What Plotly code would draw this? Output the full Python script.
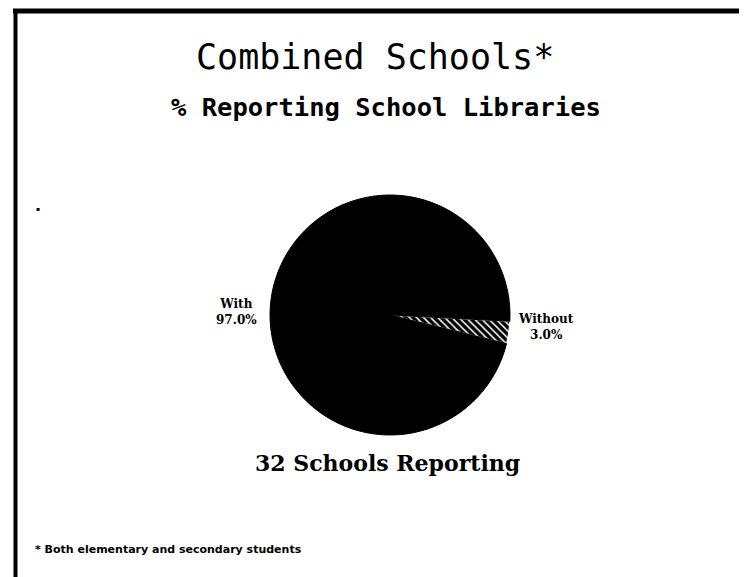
import plotly.graph_objects as go

labels = ["Without", "With"]
values = [3.0, 97.0]
title_text = "Combined Schools*"
subtitle_text = "% Reporting School Libraries"
caption_text = "32 Schools Reporting"
footnote_text = "* Both elementary and secondary students"

W, H = 747, 577
OFF = 8  # page body margin in the browser
FW, FH = W - OFF, H - OFF

def px(x):
    return (x - OFF) / FW

def py(y):
    return 1 - (y - OFF) / FH

cx, cy, r = 390, 315, 120

fig = go.Figure()
fig.add_trace(go.Pie(
    labels=labels,
    values=values,
    sort=False,
    direction="clockwise",
    rotation=93,
    textinfo="none",
    hoverinfo="label+percent",
    showlegend=False,
    domain=dict(x=[px(cx - r), px(cx + r)], y=[py(cy + r), py(cy - r)]),
    marker=dict(
        colors=["black", "black"],
        line=dict(color=["white", "black"], width=1),
        pattern=dict(shape=["\\", ""], fgcolor="white", bgcolor="black",
                     fillmode="replace", size=5, solidity=0.3),
    ),
))

label_pos = {"With": (236, 312), "Without": (546, 327)}
for lab, val in zip(labels, values):
    x, y = label_pos[lab]
    fig.add_annotation(
        x=px(x), y=py(y), xref="paper", yref="paper",
        text=f"{lab}<br>{val:.1f}%", showarrow=False,
        font=dict(family="DejaVu Serif", size=12, color="black", weight="bold"),
        align="center", xanchor="center", yanchor="middle",
    )

fig.add_annotation(x=px(375), y=py(57), xref="paper", yref="paper",
                   text=title_text, showarrow=False,
                   font=dict(family="DejaVu Sans Mono", size=35, color="black"),
                   xanchor="center", yanchor="middle")
fig.add_annotation(x=px(386), y=py(107), xref="paper", yref="paper",
                   text=subtitle_text, showarrow=False,
                   font=dict(family="DejaVu Sans Mono", size=25.5, color="black", weight="bold"),
                   xanchor="center", yanchor="middle")
fig.add_annotation(x=px(387), y=py(463), xref="paper", yref="paper",
                   text=caption_text, showarrow=False,
                   font=dict(family="DejaVu Serif", size=22, color="black", weight="bold"),
                   xanchor="center", yanchor="middle")
fig.add_annotation(x=px(33), y=py(549), xref="paper", yref="paper",
                   text=footnote_text, showarrow=False,
                   font=dict(family="DejaVu Sans", size=11, color="black", weight="bold"),
                   xanchor="left", yanchor="middle")
fig.add_annotation(x=px(38), y=py(208), xref="paper", yref="paper",
                   text="\u25aa", showarrow=False,
                   font=dict(family="DejaVu Sans", size=6, color="black"),
                   xanchor="center", yanchor="middle")

# page border (top and left)
fig.add_shape(type="line", xref="paper", yref="paper",
              x0=px(13), x1=1, y0=py(11), y1=py(11),
              line=dict(color="black", width=5))
fig.add_shape(type="line", xref="paper", yref="paper",
              x0=px(15.5), x1=px(15.5), y0=py(9), y1=0,
              line=dict(color="black", width=4))

fig.update_layout(
    width=FW, height=FH,
    margin=dict(l=0, r=0, t=0, b=0),
    paper_bgcolor="white",
    plot_bgcolor="white",
)

fig.write_html("out.html")
